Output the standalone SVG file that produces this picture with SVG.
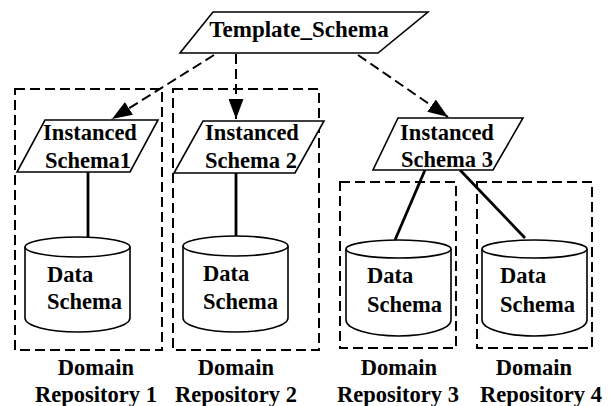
<svg xmlns="http://www.w3.org/2000/svg" width="609" height="406" viewBox="0 0 609 406">
<style>
text{font-family:"Liberation Serif","Times New Roman",serif;font-weight:bold;font-size:22.5px;fill:#000}
.m{text-anchor:middle}
.shape{fill:#fff;stroke:#000;stroke-width:1.6}
.box{fill:none;stroke:#000;stroke-width:2;stroke-dasharray:10,5}
.dash{fill:none;stroke:#000;stroke-width:2;stroke-dasharray:10,5}
.solid{fill:none;stroke:#000;stroke-width:2.8}
</style>
<defs>
<marker id="ah" viewBox="0 0 20 15" refX="20" refY="7.5" markerWidth="20" markerHeight="15" markerUnits="userSpaceOnUse" orient="auto">
<path d="M0,0 L20,7.5 L0,15 Z" fill="#000"/>
</marker>
</defs>
<g id="repo1">
<rect class="box" x="15" y="89" width="147" height="261"/>
<text class="m" x="96" y="375">Domain</text>
<text class="m" x="96" y="402">Repository 1</text>
</g>
<g id="repo2">
<rect class="box" x="173" y="89" width="146" height="261"/>
<text class="m" x="236" y="375">Domain</text>
<text class="m" x="236" y="402">Repository 2</text>
</g>
<g id="repo3">
<rect class="box" x="340" y="182" width="116" height="166"/>
<text class="m" x="399" y="375">Domain</text>
<text class="m" x="398" y="402">Repository 3</text>
</g>
<g id="repo4">
<rect class="box" x="477" y="182" width="115" height="166"/>
<text class="m" x="534" y="375">Domain</text>
<text class="m" x="541" y="402">Repository 4</text>
</g>
<g id="connectors">
<line class="dash" x1="214" y1="55" x2="112" y2="119" marker-end="url(#ah)"/>
<line class="dash" x1="236" y1="54" x2="236" y2="119" marker-end="url(#ah)"/>
<line class="dash" x1="358" y1="55" x2="448" y2="117" marker-end="url(#ah)"/>
<line class="solid" x1="88" y1="172" x2="88" y2="237"/>
<line class="solid" x1="236" y1="173" x2="236" y2="236"/>
<line class="solid" x1="425" y1="170" x2="395" y2="240"/>
<line class="solid" x1="460" y1="170" x2="525" y2="238"/>
</g>
<g id="template">
<polygon class="shape" points="213,12 428,12 378,53 180,53"/>
<text class="m" x="299" y="37" style="font-size:23px">Template_Schema</text>
</g>
<g id="inst1">
<polygon class="shape" points="45,120 158,120 130,172 17,172"/>
<text class="m" x="90" y="140">Instanced</text>
<text class="m" x="88" y="168">Schema1</text>
</g>
<g id="inst2">
<polygon class="shape" points="203,121 324,121 295,173 174,173"/>
<text class="m" x="252" y="140">Instanced</text>
<text class="m" x="251" y="168">Schema 2</text>
</g>
<g id="inst3">
<polygon class="shape" points="398,118 523,118 493,170 373,170"/>
<text class="m" x="447" y="140">Instanced</text>
<text class="m" x="447" y="167">Schema 3</text>
</g>
<g id="data1">
<path class="shape" d="M25,247 L25,318 A52.5,14 0 0 0 130,318 L130,247"/>
<ellipse class="shape" cx="77.5" cy="247" rx="52.5" ry="10"/>
<text x="47" y="282">Data</text>
<text x="47" y="309">Schema</text>
</g>
<g id="data2">
<path class="shape" d="M183,246 L183,318 A52.5,14 0 0 0 288,318 L288,246"/>
<ellipse class="shape" cx="235.5" cy="246" rx="52.5" ry="10"/>
<text x="203" y="281">Data</text>
<text x="203" y="309">Schema</text>
</g>
<g id="data3">
<path class="shape" d="M346,249 L346,320 A52.5,16 0 0 0 451,320 L451,249"/>
<ellipse class="shape" cx="398.5" cy="249" rx="52.5" ry="9"/>
<text x="367" y="283">Data</text>
<text x="367" y="312">Schema</text>
</g>
<g id="data4">
<path class="shape" d="M482,249 L482,320 A52.5,16 0 0 0 587,320 L587,249"/>
<ellipse class="shape" cx="534.5" cy="249" rx="52.5" ry="9"/>
<text x="500" y="283">Data</text>
<text x="500" y="312">Schema</text>
</g>
</svg>
